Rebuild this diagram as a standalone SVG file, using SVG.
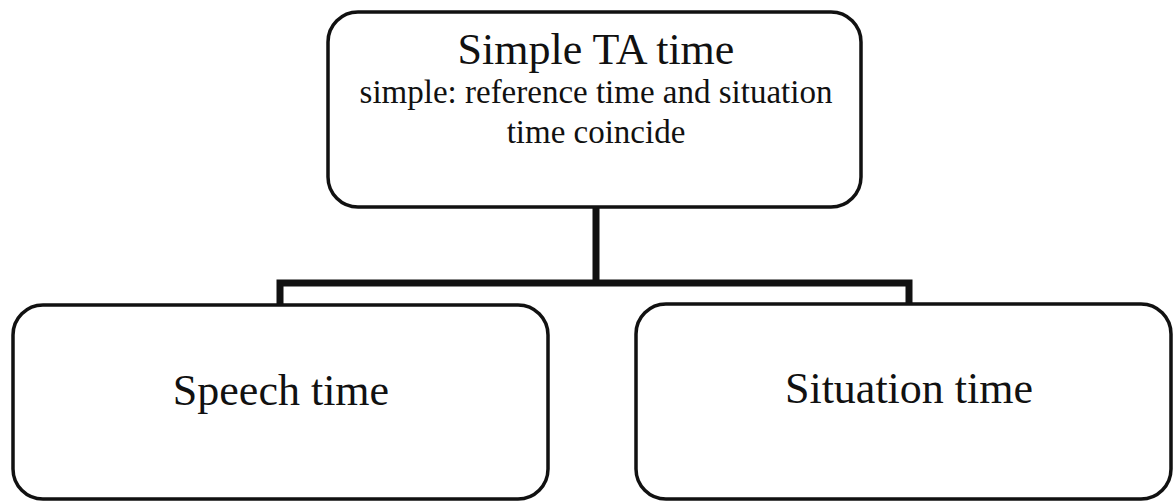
<svg xmlns="http://www.w3.org/2000/svg" width="1173" height="501" viewBox="0 0 1173 501">
  <style>
    .box { fill: #ffffff; stroke: #111111; stroke-width: 3.5; }
    .link { fill: none; stroke: #111111; stroke-width: 7; stroke-linejoin: miter; stroke-linecap: square; }
    text { font-family: "Liberation Serif", "Times New Roman", serif; fill: #111111; text-anchor: middle; }
    .title { font-size: 44px; }
    .sub { font-size: 33px; }
  </style>
  <rect width="1173" height="501" fill="#ffffff"/>

  <!-- tree connectors -->
  <g id="connectors">
    <path class="link" d="M596,207 V283 M280,305 V283 H909 V305"/>
  </g>

  <g id="node-root">
    <rect class="box" x="328" y="12" width="533" height="195" rx="30" ry="30"/>
    <text class="title" x="596" y="64">Simple TA time</text>
    <text class="sub" x="596" y="103">simple: reference time and situation</text>
    <text class="sub" x="596" y="143">time coincide</text>
  </g>

  <g id="node-speech">
    <rect class="box" x="13" y="305" width="535" height="194" rx="30" ry="30"/>
    <text class="title" x="281" y="405">Speech time</text>
  </g>

  <g id="node-situation">
    <rect class="box" x="636" y="304" width="535" height="195" rx="30" ry="30"/>
    <text class="title" x="909" y="403">Situation time</text>
  </g>
</svg>
